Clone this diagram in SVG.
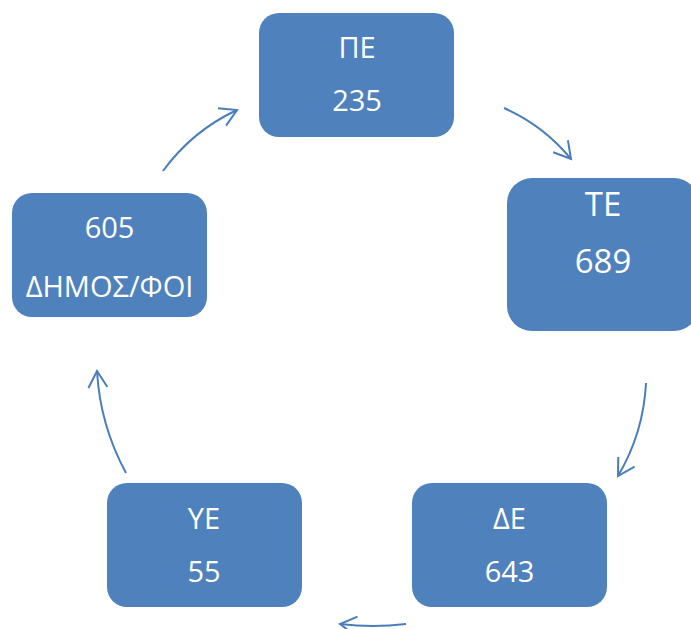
<svg xmlns="http://www.w3.org/2000/svg" width="691" height="629" viewBox="0 0 691 629">
  <style>
    .box { fill: #4F81BD; }
    .lbl { fill: #FFFFFF; font-family: "Open Sans", "Noto Sans", "DejaVu Sans", sans-serif; font-size: 29px; text-anchor: middle; }
    .big { font-size: 33px; }
    .arc { fill: none; stroke: #4A7EBB; stroke-width: 2; marker-end: url(#head); }
  </style>
  <defs>
    <marker id="head" markerUnits="userSpaceOnUse" markerWidth="40" markerHeight="40" viewBox="-20 -20 40 40" refX="0" refY="0" orient="auto">
      <path d="M-16.5,-9.5 L0,0 L-16.5,9.5" fill="none" stroke="#4A7EBB" stroke-width="2" stroke-linejoin="miter"/>
    </marker>
  </defs>

  <!-- cycle nodes -->
  <g id="node-pe">
    <rect class="box" x="259" y="13" width="195" height="124" rx="20"/>
    <text class="lbl" x="357" y="58">ΠΕ</text>
    <text class="lbl" x="357" y="111">235</text>
  </g>
  <g id="node-te">
    <rect class="box" x="507" y="178" width="192" height="153" rx="25"/>
    <text class="lbl big" x="603" y="216">ΤΕ</text>
    <text class="lbl big" x="603" y="273">689</text>
  </g>
  <g id="node-de">
    <rect class="box" x="412" y="483" width="195" height="124" rx="20"/>
    <text class="lbl" x="509.5" y="529">ΔΕ</text>
    <text class="lbl" x="509.5" y="582">643</text>
  </g>
  <g id="node-ye">
    <rect class="box" x="107" y="483" width="195" height="124" rx="20"/>
    <text class="lbl" x="204" y="529">ΥΕ</text>
    <text class="lbl" x="204" y="582">55</text>
  </g>
  <g id="node-dimos">
    <rect class="box" x="12" y="193" width="195" height="124" rx="20"/>
    <text class="lbl" x="109.5" y="238">605</text>
    <text class="lbl" x="109.5" y="297">ΔΗΜΟΣ/ΦΟΙ</text>
  </g>

  <!-- curved connectors, clockwise -->
  <g id="connectors">
    <path class="arc" d="M504,108 Q543.6,125.5 571,159"/>
    <path class="arc" d="M646,383 Q643.5,433 618,476"/>
    <path class="arc" d="M406,624 Q373,628 340,624"/>
    <path class="arc" d="M126,473 Q100,425 97,371"/>
    <path class="arc" d="M163,171 Q192,131 237,110"/>
  </g>
</svg>
